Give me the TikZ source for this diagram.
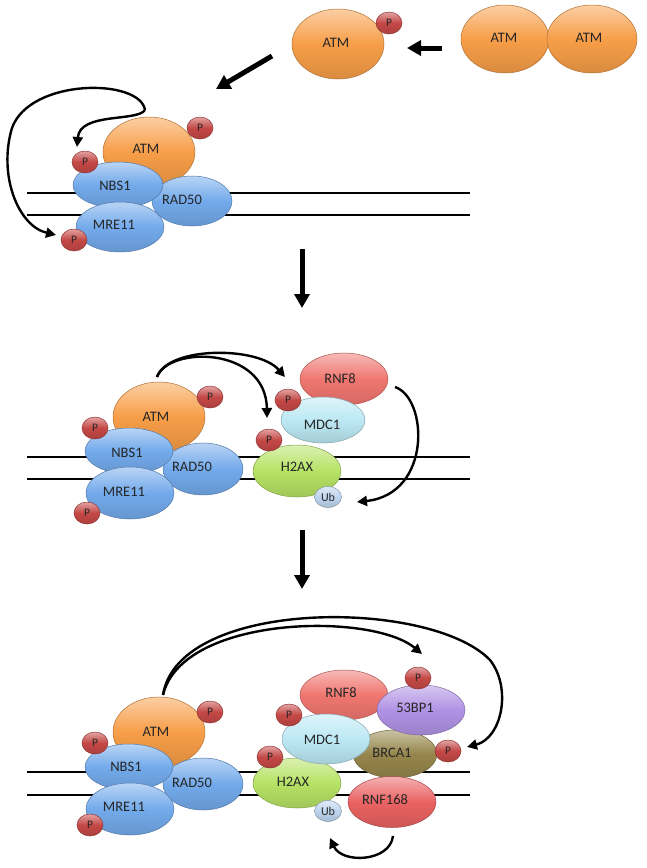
\documentclass[tikz,border=0pt]{standalone}
\usepackage{fontspec}
\setmainfont{Carlito}
\usetikzlibrary{shapes.geometric,arrows.meta}
\definecolor{atmc}{RGB}{247,158,72}
\definecolor{bluec}{RGB}{115,170,235}
\definecolor{pc}{RGB}{196,72,70}
\definecolor{rnfc}{RGB}{240,118,112}
\definecolor{mdcc}{RGB}{188,232,244}
\definecolor{h2c}{RGB}{182,226,100}
\definecolor{ubc}{RGB}{190,212,238}
\definecolor{bpc}{RGB}{176,146,228}
\definecolor{brc}{RGB}{150,134,76}
\definecolor{rnf168c}{RGB}{234,98,98}
\tikzset{
  prot/.style={ellipse, inner sep=0pt, draw=#1!72!black, line width=0.5pt,
    top color=#1!50!white, bottom color=#1!88!black, middle color=#1},
  pball/.style={prot=pc, minimum width=26pt, minimum height=22pt,
    font=\fontsize{11.5}{12}\selectfont, text=black!85},
  ubball/.style={prot=ubc, minimum width=27pt, minimum height=21pt,
    font=\fontsize{12}{12}\selectfont, text=black!85},
  lbl/.style={font=\fontsize{14.5}{16}\selectfont, text=black!85, inner sep=0pt},
  dna/.style={line width=2.8pt, black},
  carrow/.style={line width=2.4pt, -{Triangle[length=10pt,width=10pt]}},
  bigarrow/.style={line width=5pt, -{Triangle[length=14pt,width=15pt]}},
}
\begin{document}
\begin{tikzpicture}[x=1pt,y=-1pt]
\path[use as bounding box, fill=white] (0,0) rectangle (647,868);

% ---------- top row ----------
\node[prot=atmc, minimum width=92pt, minimum height=70pt] (atm0) at (338,44) {};
\node[lbl] at (336,43) {ATM};
\node[pball] (p0) at (389,23) {P};
\node[prot=atmc, minimum width=88pt, minimum height=68pt] (atmd1) at (505,39) {};
\node[lbl] at (504,38) {ATM};
\node[prot=atmc, minimum width=90pt, minimum height=68pt] (atmd2) at (592,39) {};
\node[lbl] at (589,38) {ATM};
\coordinate (la1) at (442,48);
\coordinate (la2) at (407,48);
\draw[bigarrow] (la1) -- (la2);
\coordinate (da1) at (272,56);
\coordinate (da2) at (216,89);
\draw[bigarrow] (da1) -- (da2);

% ---------- section A ----------
\draw[dna] (27,193) -- (470,193);
\draw[dna] (27,215) -- (470,215);
\node[prot=atmc, minimum width=92pt, minimum height=70pt] (atmA) at (149,152) {};
\node[lbl] at (146,149) {ATM};
\node[prot=bluec, minimum width=80pt, minimum height=50pt] (radA) at (192,201) {};
\node[lbl] at (182,200) {RAD50};
\node[prot=bluec, minimum width=90pt, minimum height=46pt] (nbsA) at (118,185) {};
\node[lbl] at (115,186) {NBS1};
\node[prot=bluec, minimum width=88pt, minimum height=50pt] (mreA) at (120,227) {};
\node[lbl] at (114,225) {MRE11};
\node[pball] (pA1) at (200,128) {P};
\node[pball] (pA2) at (85,162) {P};
\node[pball] (pA3) at (74,240) {P};
\coordinate (sA) at (145,110);
\coordinate (tA1) at (77,147);
\coordinate (tA2) at (56,235);
\draw[carrow] (sA) .. controls (137,122) and (80,112) .. (tA1);
\draw[carrow] (sA) .. controls (140,78) and (30,78) .. (12,128)
  .. controls (-2,175) and (18,226) .. (tA2);

\coordinate (dw1a) at (302,249);
\coordinate (dw1b) at (302,308);
\draw[bigarrow] (dw1a) -- (dw1b);

% ---------- section B ----------
\draw[dna] (27,457) -- (470,457);
\draw[dna] (27,479) -- (470,479);
\node[prot=atmc, minimum width=92pt, minimum height=70pt] (atmB) at (159,417) {};
\node[lbl] at (156,417) {ATM};
\node[prot=bluec, minimum width=80pt, minimum height=52pt] (radB) at (203,469) {};
\node[lbl] at (192,467) {RAD50};
\node[prot=bluec, minimum width=88pt, minimum height=46pt] (nbsB) at (129,451) {};
\node[lbl] at (127,453) {NBS1};
\node[prot=bluec, minimum width=88pt, minimum height=52pt] (mreB) at (130,493) {};
\node[lbl] at (124,492) {MRE11};
\node[pball] (pB1) at (210,397) {P};
\node[pball] (pB2) at (95,428) {P};
\node[pball] (pB3) at (87,513) {P};
\node[prot=rnfc, minimum width=88pt, minimum height=52pt] (rnfB) at (344,379) {};
\node[lbl] at (340,379) {RNF8};
\node[prot=h2c, minimum width=88pt, minimum height=52pt] (h2B) at (297,471) {};
\node[lbl] at (297,467) {H2AX};
\node[prot=mdcc, minimum width=84pt, minimum height=46pt] (mdcB) at (323,420) {};
\node[lbl] at (322,425) {MDC1};
\node[ubball] (ubB) at (328,497) {Ub};
\node[pball] (pB4) at (288,400) {P};
\node[pball] (pB5) at (269,440) {P};
\coordinate (sB) at (157,377);
\coordinate (tB1) at (285,377);
\coordinate (tB2) at (267,418);
\draw[carrow] (sB) .. controls (168,346) and (258,346) .. (tB1);
\draw[carrow] (sB) .. controls (168,346) and (266,346) .. (tB2);
\coordinate (sB2) at (395,387);
\coordinate (tB3) at (357,502);
\draw[carrow] (sB2) .. controls (428,398) and (432,494) .. (tB3);

\coordinate (dw2a) at (302,530);
\coordinate (dw2b) at (302,589);
\draw[bigarrow] (dw2a) -- (dw2b);

% ---------- section C ----------
\draw[dna] (27,772) -- (470,772);
\draw[dna] (27,795) -- (470,795);
\node[prot=atmc, minimum width=92pt, minimum height=70pt] (atmC) at (159,732) {};
\node[lbl] at (156,732) {ATM};
\node[prot=bluec, minimum width=80pt, minimum height=52pt] (radC) at (203,784) {};
\node[lbl] at (192,783) {RAD50};
\node[prot=bluec, minimum width=88pt, minimum height=46pt] (nbsC) at (129,767) {};
\node[lbl] at (126,767) {NBS1};
\node[prot=bluec, minimum width=88pt, minimum height=52pt] (mreC) at (130,809) {};
\node[lbl] at (124,807) {MRE11};
\node[pball] (pC1) at (210,712) {P};
\node[pball] (pC2) at (95,743) {P};
\node[pball] (pC3) at (90,825) {P};
\node[prot=rnfc, minimum width=88pt, minimum height=50pt] (rnfC) at (344,695) {};
\node[lbl] at (341,693) {RNF8};
\node[prot=brc, minimum width=84pt, minimum height=48pt] (brC) at (395,754) {};
\node[lbl] at (392,753) {BRCA1};
\node[prot=bpc, minimum width=88pt, minimum height=50pt] (bpC) at (421,710) {};
\node[lbl] at (415,708) {53BP1};
\node[prot=rnf168c, minimum width=88pt, minimum height=51pt] (r168C) at (392,802) {};
\node[lbl] at (385,800) {RNF168};
\node[prot=h2c, minimum width=88pt, minimum height=50pt] (h2C) at (297,783) {};
\node[lbl] at (293,782) {H2AX};
\node[prot=mdcc, minimum width=88pt, minimum height=50pt] (mdcC) at (326,739) {};
\node[lbl] at (322,740) {MDC1};
\node[ubball] (ubC) at (328,811) {Ub};
\node[pball] (pC4) at (418,678) {P};
\node[pball] (pC5) at (289,715) {P};
\node[pball] (pC6) at (270,757) {P};
\node[pball] (pC7) at (448,751) {P};
\coordinate (sC) at (163,695);
\coordinate (tC1) at (422,654);
\coordinate (tC2) at (467,747);
\draw[carrow] (sC) .. controls (182,615) and (372,612) .. (tC1);
\draw[carrow] (sC) .. controls (178,598) and (430,598) .. (490,660)
  .. controls (512,688) and (502,738) .. (tC2);
\coordinate (sC2) at (393,836);
\coordinate (tC3) at (330,838);
\draw[carrow] (sC2) .. controls (390,862) and (342,864) .. (tC3);
\end{tikzpicture}
\end{document}
